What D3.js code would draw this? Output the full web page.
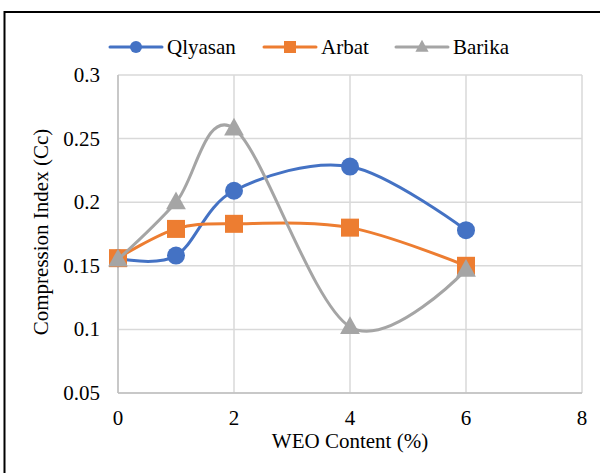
<!DOCTYPE html>
<html>
<head>
<meta charset="utf-8">
<script src="https://cdn.jsdelivr.net/npm/d3@7"></script>
<style>
  body { margin: 0; background: #fff; }
</style>
</head>
<body>
<div id="chart"></div>
<script>
const xValues = [0, 1, 2, 4, 6]
const qlyasan = [0.156, 0.158, 0.209, 0.228, 0.178]
const arbat = [0.156, 0.179, 0.183, 0.180, 0.150]
const barika = [0.155, 0.200, 0.258, 0.102, 0.147]
const seriesNames = ["Qlyasan", "Arbat", "Barika"]
const seriesColors = ["#4472C4", "#ED7D31", "#A5A5A5"]
const seriesMarkers = ["circle", "square", "triangle"]
const xTicks = [0, 2, 4, 6, 8]
const yTicks = [0.05, 0.1, 0.15, 0.2, 0.25, 0.3]

const width = 600, height = 473
const margin = { top: 75, right: 18, bottom: 80, left: 118 }
const fontSize = "21px"

let svg = d3.select("#chart").append("svg")
    .attr("width", width)
    .attr("height", height)
    .attr("font-family", "'Liberation Serif', 'Times New Roman', serif")

// outer chart border
svg.append("rect")
    .attr("x", 4.5).attr("y", 12)
    .attr("width", 620).attr("height", 500)
    .attr("fill", "none")
    .attr("stroke", "#000")
    .attr("stroke-width", 2)

let x = d3.scaleLinear().domain([0, 8]).range([margin.left, width - margin.right])
let y = d3.scaleLinear().domain([0.05, 0.3]).range([height - margin.bottom, margin.top])

// gridlines
svg.append("g").selectAll("line")
    .data(yTicks)
    .enter().append("line")
    .attr("x1", x(0)).attr("x2", x(8))
    .attr("y1", d => y(d)).attr("y2", d => y(d))
    .style("stroke", "#d9d9d9").style("stroke-width", 1.5)
svg.append("g").selectAll("line")
    .data(xTicks)
    .enter().append("line")
    .attr("y1", y(0.05)).attr("y2", y(0.3))
    .attr("x1", d => x(d)).attr("x2", d => x(d))
    .style("stroke", "#d9d9d9").style("stroke-width", 1.5)

// axis lines
svg.append("line")
    .attr("x1", x(0)).attr("x2", x(0)).attr("y1", y(0.05)).attr("y2", y(0.3))
    .style("stroke", "#bfbfbf").style("stroke-width", 1.5)
svg.append("line")
    .attr("x1", x(0)).attr("x2", x(8)).attr("y1", y(0.05)).attr("y2", y(0.05))
    .style("stroke", "#bfbfbf").style("stroke-width", 1.5)

// tick labels
svg.append("g").selectAll("text")
    .data(yTicks)
    .enter().append("text")
    .attr("x", 100)
    .attr("y", d => y(d) + 7)
    .attr("text-anchor", "end")
    .style("font-size", fontSize)
    .text(d => d)
svg.append("g").selectAll("text")
    .data(xTicks)
    .enter().append("text")
    .attr("x", d => x(d))
    .attr("y", 425)
    .attr("text-anchor", "middle")
    .style("font-size", fontSize)
    .text(d => d)

// axis titles
svg.append("text")
    .attr("x", 350).attr("y", 448)
    .attr("text-anchor", "middle")
    .style("font-size", fontSize)
    .text("WEO Content (%)")
svg.append("text")
    .attr("transform", "translate(48," + 232 + ") rotate(-90)")
    .attr("text-anchor", "middle")
    .style("font-size", fontSize)
    .text("Compression Index (Cc)")

let line = d3.line()
    .curve(d3.curveCardinal.tension(0))
    .x(d => x(d.x))
    .y(d => y(d.y))

function drawMarker(g, type, cx, cy, color, size) {
    if (type === "circle") {
        g.append("circle").attr("cx", cx).attr("cy", cy).attr("r", size / 2).attr("fill", color)
    } else if (type === "square") {
        g.append("rect").attr("x", cx - size / 2).attr("y", cy - size / 2)
            .attr("width", size).attr("height", size).attr("fill", color)
    } else {
        let s = size * 1.1, h = s * 0.9
        g.append("path")
            .attr("d", "M" + cx + "," + (cy - h * 0.6) + "L" + (cx + s / 2) + "," + (cy + h * 0.4) + "L" + (cx - s / 2) + "," + (cy + h * 0.4) + "Z")
            .attr("fill", color)
    }
}

const allSeries = [qlyasan, arbat, barika]
allSeries.forEach(function (vals, i) {
    let pts = xValues.map((xv, j) => ({ x: xv, y: vals[j] }))
    let g = svg.append("g")
    g.append("path")
        .datum(pts)
        .attr("d", line)
        .style("fill", "none")
        .style("stroke", seriesColors[i])
        .style("stroke-width", 3)
        .style("stroke-linecap", "round")
    pts.forEach(p => drawMarker(g, seriesMarkers[i], x(p.x), y(p.y), seriesColors[i], 18))
})

// legend
const legendX = [110, 264, 396]
seriesNames.forEach(function (name, i) {
    let g = svg.append("g")
    let lx = legendX[i]
    g.append("line")
        .attr("x1", lx).attr("x2", lx + 52).attr("y1", 47).attr("y2", 47)
        .style("stroke", seriesColors[i]).style("stroke-width", 3).style("stroke-linecap", "round")
    drawMarker(g, seriesMarkers[i], lx + 26, 47, seriesColors[i], 12)
    g.append("text")
        .attr("x", lx + 57).attr("y", 54)
        .style("font-size", fontSize)
        .text(name)
})
</script>
</body>
</html>
